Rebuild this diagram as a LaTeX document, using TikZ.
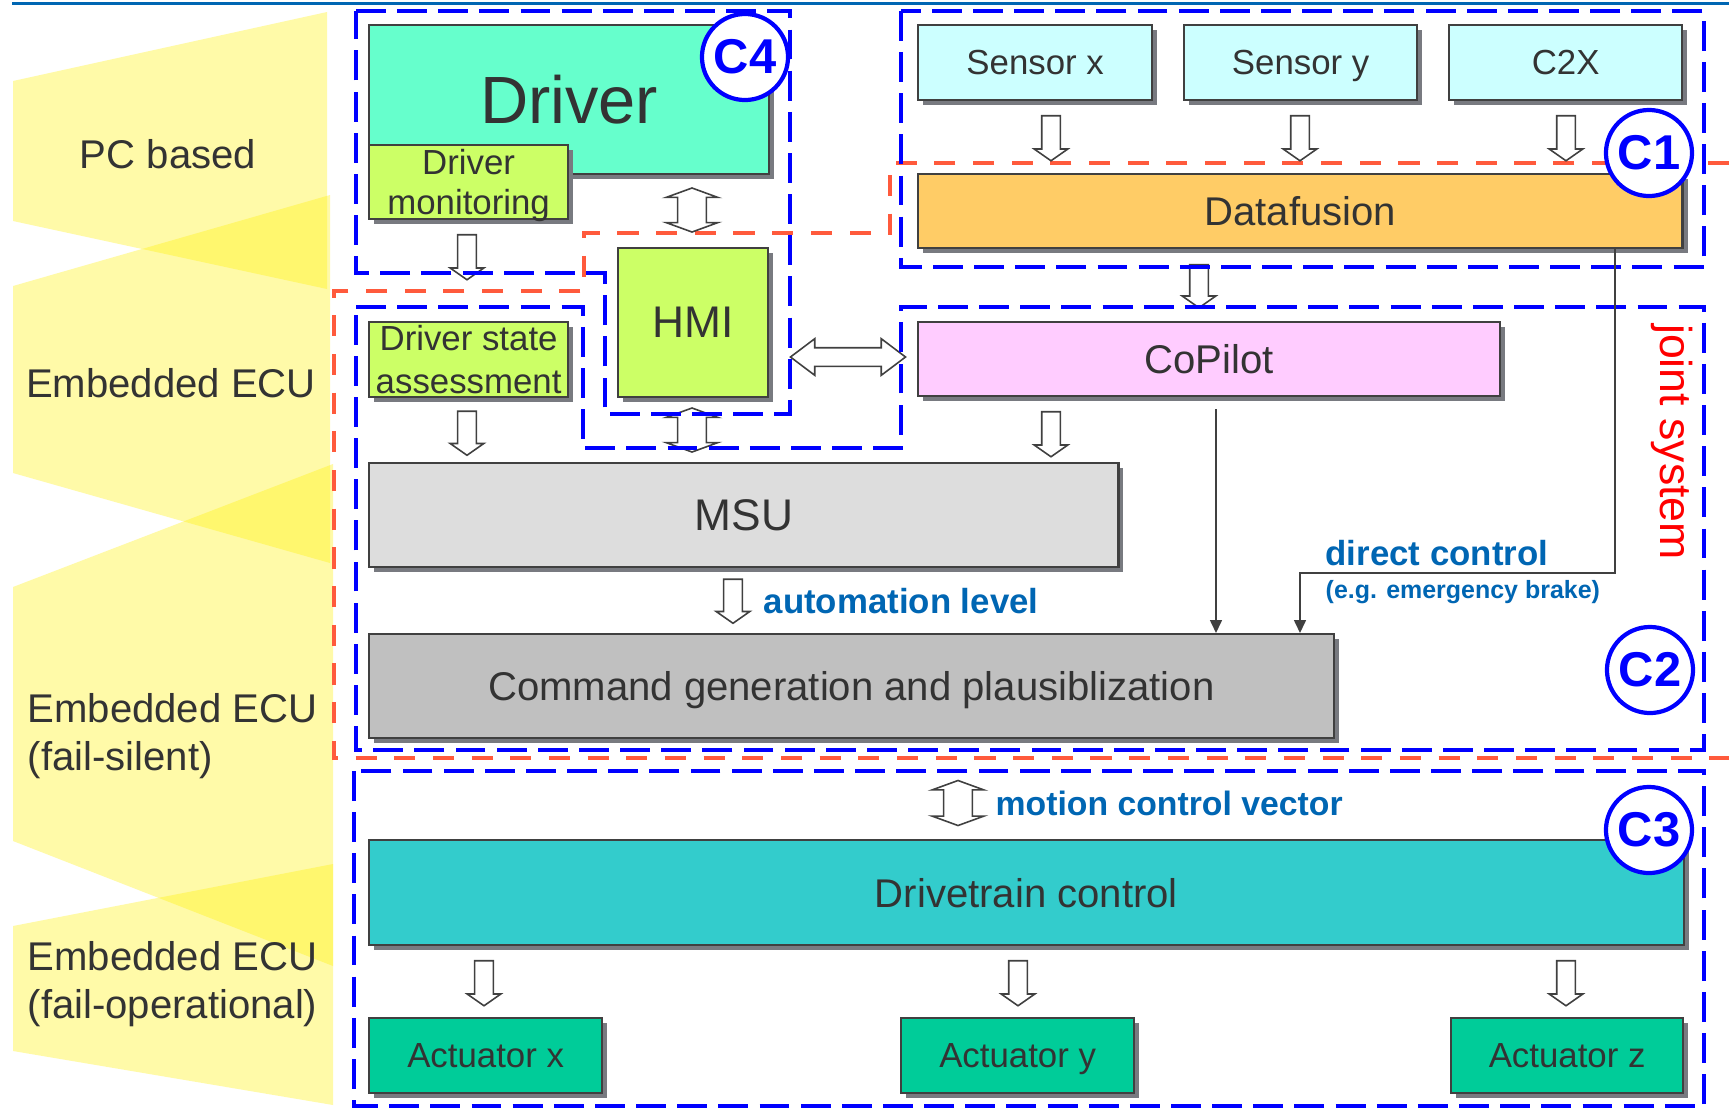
\documentclass[tikz,border=0pt]{standalone}
\usepackage{fontspec}
\setmainfont{Liberation Sans}
\usetikzlibrary{arrows.meta,shapes.arrows,shadows}
\definecolor{TextClr}{RGB}{51,51,51}
\definecolor{LineClr}{RGB}{64,64,64}
\definecolor{ShadowClr}{RGB}{120,122,128}
\definecolor{DriverClr}{RGB}{102,255,204}
\definecolor{HmiClr}{RGB}{204,255,102}
\definecolor{SensorClr}{RGB}{204,255,255}
\definecolor{FusionClr}{RGB}{255,204,102}
\definecolor{CopilotClr}{RGB}{255,204,255}
\definecolor{MsuClr}{RGB}{221,221,221}
\definecolor{CmdClr}{RGB}{192,192,192}
\definecolor{DriveClr}{RGB}{51,204,204}
\definecolor{ActClr}{RGB}{0,204,153}
\definecolor{FrameClr}{RGB}{0,0,255}
\definecolor{JointClr}{RGB}{255,90,60}
\definecolor{NoteClr}{RGB}{0,102,179}

\begin{document}
\begin{tikzpicture}[x=.01cm,y=-.01cm,
  box/.style={draw=LineClr,line width=.6pt,inner sep=0pt,anchor=north west,text=TextClr,align=center,text depth=0pt,
    drop shadow={shadow xshift=.05cm,shadow yshift=-.05cm,fill=ShadowClr,opacity=1}},
  big/.style={font=\fontsize{11.4}{13.6}\selectfont},
  sml/.style={font=\fontsize{9.9}{11.4}\selectfont},
  cbox/.style={draw=FrameClr,line width=1.15pt,dash pattern=on 8.5pt off 3.2pt},
  jsys/.style={draw=JointClr,line width=1.4pt,dash pattern=on 6pt off 5pt},
  layer/.style={fill=yellow,fill opacity=.34},
  harr/.style={single arrow,draw=LineClr,fill=white,line width=.45pt,inner sep=.085cm,
    single arrow head extend=.075cm,single arrow tip angle=110,minimum height=.45cm,rotate=-90},
  hdarr/.style={double arrow,draw=LineClr,fill=white,line width=.45pt,inner sep=.135cm,
    double arrow head extend=.115cm,double arrow tip angle=140,minimum height=.44cm},
  tharr/.style={draw=LineClr,line width=.5pt,-{Triangle[length=3.7pt,width=3.4pt]}},
  cmark/.style={circle,draw=FrameClr,line width=1.2pt,fill=white,minimum size=.86cm,inner sep=0pt,
    text=FrameClr,font=\fontsize{13.9}{16}\selectfont\bfseries},
  blnote/.style={text=NoteClr,font=\fontsize{9.9}{12}\selectfont\bfseries,inner sep=0pt,anchor=base west}]
\fill[white] (0,0) rectangle (1729,1108);
\useasboundingbox (0,0) rectangle (1729,1108);

\fill[layer] (13,81) -- (327,12) -- (327,289) -- (13,221) -- cycle;
\fill[layer] (13,286) -- (330,195) -- (330,563) -- (13,473) -- cycle;
\fill[layer] (13,587) -- (333,464) -- (333,966) -- (13,841) -- cycle;
\fill[layer] (13,926) -- (333,864) -- (333,1105) -- (13,1051) -- cycle;

\node[big,text=TextClr,inner sep=0pt] (pc) at (168,154) {PC based};
\node[big,text=TextClr,inner sep=0pt] (ecu1) at (171,383) {Embedded ECU};
\node[big,text=TextClr,inner sep=0pt,align=left,anchor=west] (ecu2) at (27,736) {Embedded ECU\\(fail-silent)};
\node[big,text=TextClr,inner sep=0pt,align=left,anchor=west] (ecu3) at (27,984) {Embedded ECU\\(fail-operational)};

\draw[NoteClr,line width=.85pt] (12,3) -- (1729,3);
\draw[jsys] (1729,163) -- (890,163) -- (890,233) -- (584,233) -- (584,291) -- (334,291) -- (334,758) -- (1729,758);

\node[box,fill=DriverClr,minimum width=4cm,minimum height=1.49cm,font=\fontsize{19}{22}\selectfont] (drv) at (368,24) {Driver};
\node[box,fill=HmiClr,minimum width=1.99cm,minimum height=.74cm,sml] (dmon) at (368,144) {Driver\\monitoring};
\node[box,fill=HmiClr,minimum width=1.5cm,minimum height=1.49cm,font=\fontsize{12.6}{15}\selectfont] (hmi) at (617,247) {HMI};
\node[box,fill=HmiClr,minimum width=1.99cm,minimum height=.75cm,font=\fontsize{9.9}{12.2}\selectfont] (dsa) at (368,321) {Driver state\\assessment};
\node[box,fill=SensorClr,minimum width=2.34cm,minimum height=.75cm,sml] (sx) at (917,24) {Sensor x};
\node[box,fill=SensorClr,minimum width=2.33cm,minimum height=.75cm,sml] (sy) at (1183,24) {Sensor y};
\node[box,fill=SensorClr,minimum width=2.33cm,minimum height=.75cm,sml] (ctx) at (1448,24) {C2X};
\node[box,fill=FusionClr,minimum width=7.64cm,minimum height=.74cm,big] (dfu) at (917,173) {Datafusion};
\node[box,fill=CopilotClr,minimum width=5.82cm,minimum height=.74cm,big] (cop) at (917,321) {CoPilot};
\node[box,fill=MsuClr,minimum width=7.49cm,minimum height=1.04cm,font=\fontsize{12.6}{15}\selectfont] (msu) at (368,462) {MSU};
\node[box,fill=CmdClr,minimum width=9.64cm,minimum height=1.04cm,big] (cmd) at (368,633) {Command generation and plausiblization};
\node[box,fill=DriveClr,minimum width=13.14cm,minimum height=1.05cm,big] (dtc) at (368,839) {Drivetrain control};
\node[box,fill=ActClr,minimum width=2.33cm,minimum height=.75cm,sml] (ax) at (368,1017) {Actuator x};
\node[box,fill=ActClr,minimum width=2.33cm,minimum height=.75cm,sml] (ay) at (900,1017) {Actuator y};
\node[box,fill=ActClr,minimum width=2.32cm,minimum height=.75cm,sml] (az) at (1450,1017) {Actuator z};

\node[harr] (a1) at (467,254) {};
\node[harr] (a2) at (1051,135) {};
\node[harr] (a3) at (1300,135) {};
\node[harr] (a4) at (1566,135) {};
\node[harr,minimum height=.43cm] (a5) at (1199,283) {};
\node[harr,minimum height=.44cm] (a6) at (467,430) {};
\node[harr] (a7) at (1051,431) {};
\node[harr,minimum height=.44cm] (a8) at (733,598) {};
\node[harr] (a9) at (484,980) {};
\node[harr] (a10) at (1018,980) {};
\node[harr] (a11) at (1566,980) {};

\node[hdarr,rotate=90] (d1) at (692,210) {};
\node[hdarr,rotate=90] (d2) at (692,430) {};
\node[hdarr,rotate=90,minimum height=.45cm] (d3) at (958,803) {};
\node[hdarr,inner sep=.085cm,double arrow head extend=.09cm,double arrow tip angle=74,minimum height=1.15cm] (d4) at (848,357) {};

\draw[cbox] (356,11) -- (790,11) -- (790,414) -- (605,414) -- (605,273) -- (356,273) -- cycle;
\draw[cbox] (901,11) rectangle (1704,267);
\draw[cbox] (356,307) -- (583,307) -- (583,448) -- (901,448) -- (901,307) -- (1704,307) -- (1704,750) -- (356,750) -- cycle;
\draw[cbox] (354,771) rectangle (1704,1106);

\coordinate (cpo) at (1216,409);
\coordinate (dcr) at (1615,573);
\coordinate (dcl) at (1300,573);
\draw[tharr] (cpo) -- (cpo |- cmd.north);
\draw[tharr] (dfu.south -| dcr) -- (dcr) -- (dcl) -- (dcl |- cmd.north);

\node[blnote] (alv) at (763,613) {automation level};
\node[blnote] (dct) at (1325,565) {direct control};
\node[blnote,font=\fontsize{7.1}{9}\selectfont\bfseries] (ebr) at (1325,598) {(e.g. emergency brake)};
\node[blnote,font=\fontsize{9.6}{12}\selectfont\bfseries] (mcv) at (995,815) {motion control vector};
\node[text=red,rotate=-90,font=\fontsize{12.7}{15}\selectfont,inner sep=0pt] (jst) at (1672,442) {joint system};

\node[cmark] (c4) at (745,57) {C4};
\node[cmark] (c1) at (1649,153) {C1};
\node[cmark] (c2) at (1650,670) {C2};
\node[cmark] (c3) at (1649,830) {C3};
\end{tikzpicture}
\end{document}
